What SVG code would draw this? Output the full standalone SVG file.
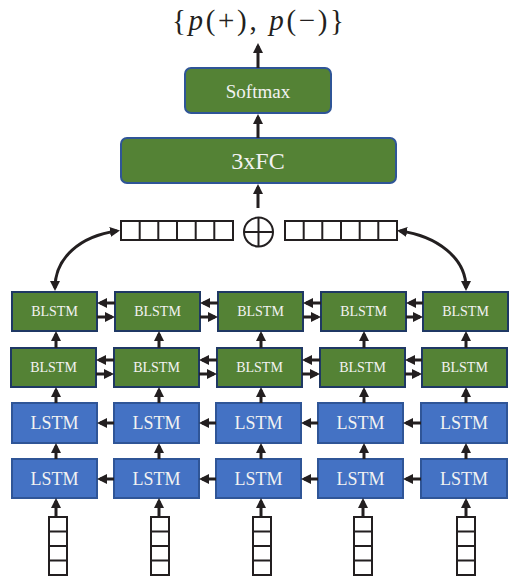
<svg xmlns="http://www.w3.org/2000/svg" width="509" height="579" viewBox="0 0 509 579">
<style>
.g{fill:#548235;stroke:#2F5597;stroke-width:2}
.gb{fill:#548235;stroke:#1F3864;stroke-width:2}
.b{fill:#4472C4;stroke:#2F5597;stroke-width:2}
text{font-family:"Liberation Serif","DejaVu Serif",serif}
.t{fill:#F2F2F2;text-anchor:middle}
.tb{font-size:14px}
.tl{font-size:18px}
.c{stroke:#231F20;stroke-width:3;fill:none;marker-end:url(#ah)}
.v{fill:#fff;stroke:#231F20;stroke-width:2}
</style>
<defs>
<marker id="ah" viewBox="0 0 10 10" markerUnits="userSpaceOnUse" markerWidth="10" markerHeight="10" refX="7" refY="5" orient="auto-start-reverse">
<path d="M0,0 L10,5 L0,10 z" fill="#231F20"/>
</marker>
</defs>
<rect width="509" height="579" fill="#fff"/>

<text id="output" x="258" y="30" font-family="Liberation Serif" font-size="29" fill="#231F20" text-anchor="middle" textLength="172" lengthAdjust="spacing">{<tspan font-style="italic">p</tspan>(+), <tspan font-style="italic">p</tspan>(−)}</text>

<g id="softmax"><rect class="g" x="185" y="68" width="146" height="45" rx="6"/><text class="t" x="258" y="98" font-size="19" font-family="Liberation Serif">Softmax</text></g>
<g id="fc"><rect class="g" x="121" y="138" width="275" height="45" rx="6"/><text class="t" x="258" y="169" font-size="24" font-family="Liberation Serif">3xFC</text></g>

<g id="concat">
<g id="vecL"><rect class="v" x="121" y="221" width="112" height="19"/><path d="M139.7 221v19M158.3 221v19M177 221v19M195.7 221v19M214.3 221v19" stroke="#231F20" stroke-width="2"/></g>
<g id="oplus"><circle cx="258.5" cy="232" r="14.5" fill="#fff" stroke="#231F20" stroke-width="2"/><path d="M244 232h29M258.5 217.5v29" stroke="#231F20" stroke-width="2"/></g>
<g id="vecR"><rect class="v" x="285" y="221" width="112" height="19"/><path d="M303.7 221v19M322.3 221v19M341 221v19M359.7 221v19M378.3 221v19" stroke="#231F20" stroke-width="2"/></g>
</g>

<g id="blstm1" font-family="Liberation Serif">
<g id="b1_1"><rect class="gb" x="12" y="292" width="85" height="39"/><text class="t tb" x="54.5" y="316">BLSTM</text></g>
<g id="b1_2"><rect class="gb" x="115" y="292" width="85" height="39"/><text class="t tb" x="157.5" y="316">BLSTM</text></g>
<g id="b1_3"><rect class="gb" x="218" y="292" width="85" height="39"/><text class="t tb" x="260.5" y="316">BLSTM</text></g>
<g id="b1_4"><rect class="gb" x="321" y="292" width="85" height="39"/><text class="t tb" x="363.5" y="316">BLSTM</text></g>
<g id="b1_5"><rect class="gb" x="423" y="292" width="85" height="39"/><text class="t tb" x="465.5" y="316">BLSTM</text></g>
</g>
<g id="blstm2">
<g id="b2_1"><rect class="gb" x="11" y="348" width="85" height="39"/><text class="t tb" x="53.5" y="372">BLSTM</text></g>
<g id="b2_2"><rect class="gb" x="114" y="348" width="85" height="39"/><text class="t tb" x="156.5" y="372">BLSTM</text></g>
<g id="b2_3"><rect class="gb" x="217" y="348" width="85" height="39"/><text class="t tb" x="259.5" y="372">BLSTM</text></g>
<g id="b2_4"><rect class="gb" x="320" y="348" width="85" height="39"/><text class="t tb" x="362.5" y="372">BLSTM</text></g>
<g id="b2_5"><rect class="gb" x="422" y="348" width="85" height="39"/><text class="t tb" x="464.5" y="372">BLSTM</text></g>
</g>
<g id="lstm1">
<g id="l1_1"><rect class="b" x="12" y="403" width="85" height="40"/><text class="t tl" x="54.5" y="429">LSTM</text></g>
<g id="l1_2"><rect class="b" x="114" y="403" width="85" height="40"/><text class="t tl" x="156.5" y="429">LSTM</text></g>
<g id="l1_3"><rect class="b" x="216" y="403" width="85" height="40"/><text class="t tl" x="258.5" y="429">LSTM</text></g>
<g id="l1_4"><rect class="b" x="318" y="403" width="85" height="40"/><text class="t tl" x="360.5" y="429">LSTM</text></g>
<g id="l1_5"><rect class="b" x="421" y="403" width="86" height="40"/><text class="t tl" x="464" y="429">LSTM</text></g>
</g>
<g id="lstm2">
<g id="l2_1"><rect class="b" x="12" y="459" width="85" height="39"/><text class="t tl" x="54.5" y="485">LSTM</text></g>
<g id="l2_2"><rect class="b" x="114" y="459" width="85" height="39"/><text class="t tl" x="156.5" y="485">LSTM</text></g>
<g id="l2_3"><rect class="b" x="216" y="459" width="85" height="39"/><text class="t tl" x="258.5" y="485">LSTM</text></g>
<g id="l2_4"><rect class="b" x="318" y="459" width="85" height="39"/><text class="t tl" x="360.5" y="485">LSTM</text></g>
<g id="l2_5"><rect class="b" x="421" y="459" width="86" height="39"/><text class="t tl" x="464" y="485">LSTM</text></g>
</g>
<g id="inputs">
<g id="in1"><rect class="v" x="49" y="517" width="18" height="58"/><path d="M49 531.5h18M49 546h18M49 560.5h18" stroke="#231F20" stroke-width="2"/></g>
<g id="in2"><rect class="v" x="151" y="517" width="18" height="58"/><path d="M151 531.5h18M151 546h18M151 560.5h18" stroke="#231F20" stroke-width="2"/></g>
<g id="in3"><rect class="v" x="253" y="517" width="18" height="58"/><path d="M253 531.5h18M253 546h18M253 560.5h18" stroke="#231F20" stroke-width="2"/></g>
<g id="in4"><rect class="v" x="354" y="517" width="18" height="58"/><path d="M354 531.5h18M354 546h18M354 560.5h18" stroke="#231F20" stroke-width="2"/></g>
<g id="in5"><rect class="v" x="457" y="517" width="18" height="58"/><path d="M457 531.5h18M457 546h18M457 560.5h18" stroke="#231F20" stroke-width="2"/></g>
</g>

<g id="connectors">
<path class="c" d="M258 68V46"/>
<path class="c" d="M258 138V117"/>
<path class="c" d="M258 208V187"/>
<path class="c" d="M117 231C80 236 55 258 55 288" style="marker-start:url(#ah)"/>
<path class="c" d="M400 231C437 236 466 258 466 288" style="marker-start:url(#ah)"/>
<path class="c" d="M115 303H100"/><path class="c" d="M97 317H112"/>
<path class="c" d="M218 303H203"/><path class="c" d="M200 317H215"/>
<path class="c" d="M321 303H306"/><path class="c" d="M303 317H318"/>
<path class="c" d="M423 303H409"/><path class="c" d="M406 317H420"/>
<path class="c" d="M114 360H99"/><path class="c" d="M96 374H111"/>
<path class="c" d="M217 360H202"/><path class="c" d="M199 374H214"/>
<path class="c" d="M320 360H305"/><path class="c" d="M302 374H317"/>
<path class="c" d="M422 360H408"/><path class="c" d="M405 374H419"/>
<path class="c" d="M114 423H100"/><path class="c" d="M216 423H202"/><path class="c" d="M318 423H304"/><path class="c" d="M421 423H406"/>
<path class="c" d="M114 479H100"/><path class="c" d="M216 479H202"/><path class="c" d="M318 479H304"/><path class="c" d="M421 479H406"/>
<path class="c" d="M56 348V334"/><path class="c" d="M159 348V334"/><path class="c" d="M261 348V334"/><path class="c" d="M364 348V334"/><path class="c" d="M466 348V334"/>
<path class="c" d="M56 403V390"/><path class="c" d="M159 403V390"/><path class="c" d="M261 403V390"/><path class="c" d="M364 403V390"/><path class="c" d="M466 403V390"/>
<path class="c" d="M56 459V446"/><path class="c" d="M159 459V446"/><path class="c" d="M261 459V446"/><path class="c" d="M364 459V446"/><path class="c" d="M466 459V446"/>
<path class="c" d="M56 517V501"/><path class="c" d="M159 517V501"/><path class="c" d="M261 517V501"/><path class="c" d="M363 517V501"/><path class="c" d="M466 517V501"/>
</g>
</svg>
